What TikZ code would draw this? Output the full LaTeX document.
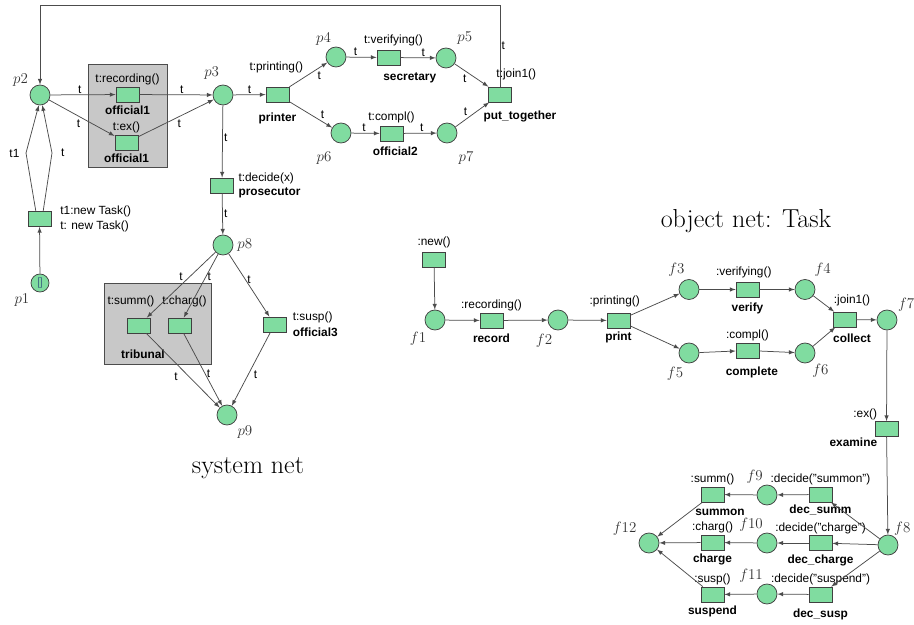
\documentclass[tikz,border=0pt]{standalone}
\usepackage{fontspec}
\setsansfont{Liberation Sans}
\usetikzlibrary{positioning}

\definecolor{netgreen}{HTML}{80DCA0}
\definecolor{netgray}{HTML}{C8C8C8}

\begin{document}
\begin{tikzpicture}[
			x=0.8pt, y=-0.8pt,
			place/.style={
				draw=black!75,
				fill=netgreen,
				circle,
				minimum size=16pt,
				inner sep=0pt,
				line width=0.6pt
			},
			trans/.style={
				draw=black!75,
				fill=netgreen,
				rectangle,
				minimum width=18.4pt,
				minimum height=12pt,
				inner sep=0pt,
				line width=0.6pt
			},
			op/.style={
				font=\sffamily\fontsize{9.5}{11}\selectfont,
				inner sep=1pt
			},
			role/.style={
				font=\sffamily\bfseries\fontsize{9.5}{11}\selectfont,
				inner sep=1pt
			},
			pname/.style={
				font=\fontsize{12}{14}\selectfont,
				text=black!80,
				inner sep=1pt
			},
			elabel/.style={
				font=\sffamily\fontsize{9.5}{11}\selectfont,
				inner sep=1pt
			},
			title/.style={
				font=\rmfamily\fontsize{20.8}{25}\selectfont
			},
			group/.style={
				draw=black!70,
				fill=netgray,
				line width=0.8pt
			},
			lines/.style={
				draw=black!70,
				line width=0.6pt,
				>=latex
			}
		]
			\useasboundingbox (0,0) rectangle (914,625);

			% system net
			\draw[group] (88,65) rectangle (167,168);
			\draw[group] (104,284) rectangle (211,364);

			\node[place, minimum size=14.4pt,
				label={[pname,label distance=3pt]225:$p1$}]
				(p1) at (40,283) {\fontsize{8}{8}\selectfont\color{blue!40!black}[]};
			\node[trans,
				label={[op,align=left,label distance=6pt]right:{t1:new Task()\\[1.5pt]t: new Task()}}]
				(tnew) at (39.5,219) {};
			\node[place, label={[pname,label distance=2pt]145:$p2$}] (p2) at (40,95) {};

			\node[trans,
				label={[op]above:{t:recording()}},
				label={[role,label distance=2pt]below:official1}]
				(rec) at (127.5,94.5) {};
			\node[trans,
				label={[op]above:{t:ex()}},
				label={[role,label distance=2pt]below:official1}]
				(ex) at (126.5,142.5) {};

			\node[place, label={[pname,label distance=3pt]100:$p3$}] (p3) at (223,95) {};
			\node[trans,
				label={[op,label distance=10pt,xshift=-1pt]above:{t:printing()}},
				label={[role,label distance=7pt]below:printer}]
				(prn) at (277.5,94.5) {};

			\node[place, label={[pname,label distance=0pt]110:$p4$}] (p4) at (336,57) {};
			\node[trans,
				label={[op,label distance=2pt,xshift=4pt]above:{t:verifying()}},
				label={[role,label distance=5pt,xshift=17pt]below:secretary}]
				(sec) at (388.5,57.5) {};
			\node[place, label={[pname,label distance=4pt]50:$p5$}] (p5) at (446,58) {};

			\node[place, label={[pname,label distance=7pt]245:$p6$}] (p6) at (341,133) {};
			\node[trans,
				label={[op,label distance=1pt]above:{t:compl()}},
				label={[role,label distance=3pt,xshift=3pt]below:official2}]
				(off2) at (391.5,133.5) {};
			\node[place, label={[pname,label distance=8pt]300:$p7$}] (p7) at (447,133) {};

			\node[trans,
				label={[op,label distance=4pt,xshift=13pt]above:{t:join1()}},
				label={[role,label distance=6pt,xshift=16pt]below:put\_together}]
				(put) at (500,94.5) {};

			\node[trans,
				label={[op,align=left,label distance=2.5pt]right:{t:decide(x)\\\textbf{prosecutor}}}]
				(pros) at (222,185.5) {};
			\node[place, label={[pname,label distance=2pt]right:$p8$}] (p8) at (223,245) {};

			\node[trans, label={[op,label distance=7pt,xshift=-6pt]above:{t:summ()}}]
				(summ) at (138.5,325.5) {};
			\node[trans, label={[op,label distance=7pt,xshift=4pt]above:{t:charg()}}]
				(charg) at (179.5,325.5) {};
			\node[role] (tribunal) at (143,354) {tribunal};
			\node[trans,
				label={[op,align=left,label distance=4pt]right:{t:susp()\\[1.5pt]\textbf{official3}}}]
				(susp) at (274.5,324.5) {};
			\node[place, label={[pname,label distance=2pt]315:$p9$}] (p9) at (227,415) {};

			\node[title] (sysnet) at (248,468) {system net};

			\draw[lines,->] (p1) -- (tnew);
			\draw[lines,->] (tnew.115) -- (26,153) node[elabel,left=4pt] {t1} -- (p2.-97);
			\draw[lines,->] (tnew.65) -- (52,153) node[elabel,right=6pt] {t} -- (p2.-77);
			\draw[lines,->] (p2) -- node[elabel,above,pos=.45] {t} (rec);
			\draw[lines,->] (p2) -- node[elabel,below left,pos=.5] {t} (ex);
			\draw[lines,->] (rec) -- node[elabel,above,pos=.58] {t} (p3);
			\draw[lines,->] (ex) -- node[elabel,below right,pos=.5] {t} (p3);
			\draw[lines,->] (p3) -- node[elabel,above,pos=.5] {t} (prn);
			\draw[lines,->] (prn) -- node[elabel,below right,pos=.7] {t} (p4);
			\draw[lines,->] (prn) -- node[elabel,above right,pos=.7] {t} (p6);
			\draw[lines,->] (p4) -- node[elabel,above,pos=.3] {t} (sec);
			\draw[lines,->] (sec) -- node[elabel,above,pos=.65] {t} (p5);
			\draw[lines,->] (p6) -- node[elabel,above,pos=.45] {t} (off2);
			\draw[lines,->] (off2) -- node[elabel,above,pos=.55] {t} (p7);
			\draw[lines,->] (p5) -- node[elabel,below left,pos=.4] {t} (put);
			\draw[lines,->] (p7) -- node[elabel,above left,pos=.4] {t} (put);
			\draw[lines,->] (put) -- node[elabel,right,pos=.5] {t} (500,5) -- (40,5) -- (p2);
			\draw[lines,->] (p3) -- node[elabel,right,pos=.45] {t} (pros);
			\draw[lines,->] (pros) -- node[elabel,right,pos=.5] {t} (p8);
			\draw[lines,->] (p8) -- node[elabel,above=2pt,pos=.5] {t} (summ);
			\draw[lines,->] (p8) -- node[elabel,right,pos=.35] {t} (charg);
			\draw[lines,->] (p8) -- node[elabel,right,pos=.42] {t} (susp);
			\draw[lines,->] (summ) -- node[elabel,below left=2.5pt,pos=.48] {t} (p9);
			\draw[lines,->] (charg) -- node[elabel,right,pos=.56] {t} (p9);
			\draw[lines,->] (susp) -- node[elabel,right=3pt,pos=.57] {t} (p9);

			% object net
			\node[title] (objnet) at (746,221) {object net: Task};

			\node[trans, label={[op,label distance=2pt]above:{:new()}}] (newo) at (434,259.5) {};
			\node[place, label={[pname,label distance=2pt]235:$f1$}] (f1) at (435,320) {};
			\node[trans,
				label={[op,label distance=0.5pt]above:{:recording()}},
				label={[role,label distance=3pt]below:record}]
				(record) at (491.5,320.5) {};
			\node[place, label={[pname,label distance=2pt]250:$f2$}] (f2) at (558,320) {};
			\node[trans,
				label={[op,label distance=3pt,xshift=-3pt]above:{:printing()}},
				label={[role,label distance=2pt]below:print}]
				(print) at (618.5,320.5) {};
			\node[place, label={[pname,label distance=1pt]105:$f3$}] (f3) at (689,289.5) {};
			\node[trans,
				label={[op,label distance=2pt,xshift=-3pt]above:{:verifying()}},
				label={[role,label distance=3pt]below:verify}]
				(verify) at (747.5,289.5) {};
			\node[place, label={[pname,label distance=3pt]55:$f4$}] (f4) at (805,289.5) {};
			\node[place, label={[pname,label distance=2pt]250:$f5$}] (f5) at (689,353) {};
			\node[trans,
				label={[op,label distance=0pt]above:{:compl()}},
				label={[role,label distance=6pt,xshift=3.5pt]below:complete}]
				(complete) at (747.5,350.5) {};
			\node[place, label={[pname,label distance=1pt]300:$f6$}] (f6) at (805,353) {};
			\node[trans,
				label={[op,label distance=3pt,xshift=6pt]above:{:join1()}},
				label={[role,label distance=4pt,xshift=6pt]below:collect}]
				(collect) at (844.5,319.5) {};
			\node[place, label={[pname,label distance=1pt]35:$f7$}] (f7) at (887,320) {};
			\node[trans,
				label={[op]above left:{:ex()}},
				label={[role]below left:examine}]
				(examine) at (886.5,429) {};
			\node[place, label={[pname,label distance=0pt,xshift=-1pt]55:$f8$}] (f8) at (888,545) {};

			\node[trans,
				label={[op]above:{:decide("summon")}},
				label={[role,label distance=0.5pt]below:dec\_summ}]
				(decsumm) at (820.5,494.5) {};
			\node[place, label={[pname,label distance=0pt]105:$f9$}] (f9) at (767,495) {};
			\node[trans,
				label={[op]above:{:summ()}},
				label={[role,label distance=4pt,xshift=6pt]below:summon}]
				(summon) at (712.5,494.5) {};

			\node[trans,
				label={[op]above:{:decide("charge")}},
				label={[role,label distance=2pt]below:dec\_charge}]
				(deccharge) at (820.5,543) {};
			\node[place, label={[pname,label distance=0pt]105:$f10$}] (f10) at (767,543) {};
			\node[trans,
				label={[op]above:{:charg()}},
				label={[role,label distance=2pt]below:charge}]
				(charge) at (712.5,542.5) {};

			\node[trans,
				label={[op]above:{:decide("suspend")}},
				label={[role,label distance=4pt]below:dec\_susp}]
				(decsusp) at (820.5,594.5) {};
			\node[place, label={[pname,label distance=0pt]105:$f11$}] (f11) at (767,594) {};
			\node[trans,
				label={[op]above:{:susp()}},
				label={[role,label distance=2pt]below:suspend}]
				(suspend) at (712.5,594.5) {};

			\node[place, label={[pname,label distance=2pt]150:$f12$}] (f12) at (649,543) {};

			\draw[lines,->] (newo) -- (f1);
			\draw[lines,->] (f1) -- (record);
			\draw[lines,->] (record) -- (f2);
			\draw[lines,->] (f2) -- (print);
			\draw[lines,->] (print) -- (f3);
			\draw[lines,->] (print) -- (f5);
			\draw[lines,->] (f3) -- (verify);
			\draw[lines,->] (verify) -- (f4);
			\draw[lines,->] (f5) -- (complete);
			\draw[lines,->] (complete) -- (f6);
			\draw[lines,->] (f4) -- (collect);
			\draw[lines,->] (f6) -- (collect);
			\draw[lines,->] (collect) -- (f7);
			\draw[lines,->] (f7) -- (examine);
			\draw[lines,->] (examine) -- (f8);
			\draw[lines,->] (f8) -- (decsumm);
			\draw[lines,->] (f8) -- (deccharge);
			\draw[lines,->] (f8) -- (decsusp);
			\draw[lines,->] (decsumm) -- (f9);
			\draw[lines,->] (deccharge) -- (f10);
			\draw[lines,->] (decsusp) -- (f11);
			\draw[lines,->] (f9) -- (summon);
			\draw[lines,->] (f10) -- (charge);
			\draw[lines,->] (f11) -- (suspend);
			\draw[lines,->] (summon) -- (f12);
			\draw[lines,->] (charge) -- (f12);
			\draw[lines,->] (suspend) -- (f12);
		\end{tikzpicture}
\end{document}
